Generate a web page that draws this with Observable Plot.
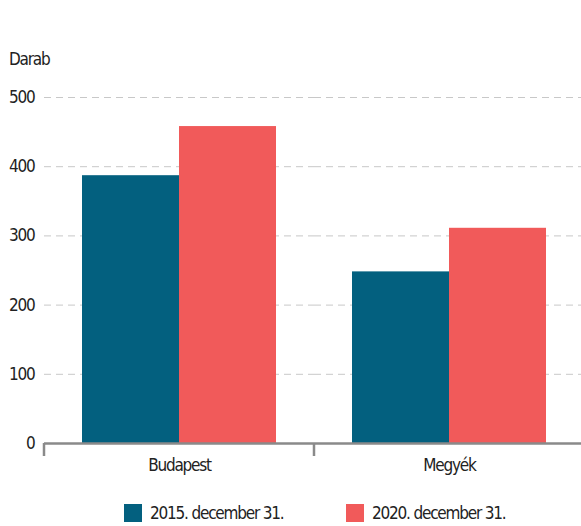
<!DOCTYPE html>
<html><head><meta charset="utf-8">
<script src="https://cdn.jsdelivr.net/npm/d3@7"></script>
<script src="https://cdn.jsdelivr.net/npm/@observablehq/plot@0.6"></script>
<style>
body{margin:0;background:#fff;}
#wrap{position:relative;width:581px;height:526px;overflow:hidden;font-family:"DejaVu Sans Condensed","Liberation Sans Narrow",sans-serif;font-stretch:condensed;color:#222;letter-spacing:-1.2px;}
#ylab{position:absolute;left:9px;top:49px;font-size:17px;}
.item{position:absolute;top:503px;font-size:17px;line-height:20px;display:flex;align-items:center;}
.sw{width:18px;height:18px;margin-right:8px;}
svg text{font-family:"DejaVu Sans Condensed","Liberation Sans Narrow",sans-serif;font-stretch:condensed;letter-spacing:-1.2px;}
</style></head>
<body><div id="wrap"><div id="ylab">Darab</div></div>
<script>
const regions = ["Budapest", "Megyék"];
const series = ["2015. december 31.", "2020. december 31."];
const values2015 = [387, 248];
const values2020 = [458, 311];
const colors = ["#03607f", "#f15a5a"];
const yTicks = [0, 100, 200, 300, 400, 500];
const legendLeft = [124, 346];

const data = [];
regions.forEach((r, i) => {
  data.push({region: r, series: series[0], value: values2015[i]});
  data.push({region: r, series: series[1], value: values2020[i]});
});

const plot = Plot.plot({
  width: 581, height: 486,
  marginLeft: 44, marginRight: -3, marginTop: 97, marginBottom: 43,
  style: {fontSize: "17px", color: "#222", background: "#fff"},
  fx: {domain: regions, padding: 0, label: null, axis: null},
  x: {domain: series, paddingInner: 0, paddingOuter: 0.39, axis: null},
  y: {domain: [0, 500]},
  color: {domain: series, range: colors},
  marks: [
    Plot.gridY(yTicks, {stroke: "#c8c8c8", strokeOpacity: 1, strokeDasharray: "7,5"}),
    Plot.axisY(yTicks, {tickSize: 0, tickPadding: 10, label: null, fontSize: 17}),
    Plot.barY(data, {fx: "region", x: "series", y: "value", fill: "series"}),
    Plot.ruleY([0], {stroke: "#8a8a8a", strokeWidth: 2.5}),
    Plot.axisFx({anchor: "bottom", tickSize: 0, tickPadding: 15, label: null, fontSize: 17})
  ]
});
const wrap = document.getElementById("wrap");
wrap.insertBefore(plot, wrap.firstChild);

// boundary ticks on the category axis, from the fx scale
const fx = plot.scale("fx");
const edges = new Set();
regions.forEach(r => { const s = fx.apply(r); edges.add(s); edges.add(s + fx.bandwidth); });
const svg = d3.select(plot);
const y0 = plot.scale("y").apply(0);
edges.forEach(x => {
  svg.append("line").attr("x1", x).attr("x2", x).attr("y1", y0).attr("y2", y0 + 13)
    .attr("stroke", "#8a8a8a").attr("stroke-width", 2.5);
});

series.forEach((s, i) => {
  const d = document.createElement("div");
  d.className = "item";
  d.style.left = legendLeft[i] + "px";
  d.innerHTML = `<div class="sw" style="background:${colors[i]}"></div><span>${s}</span>`;
  wrap.appendChild(d);
});
</script></body></html>
